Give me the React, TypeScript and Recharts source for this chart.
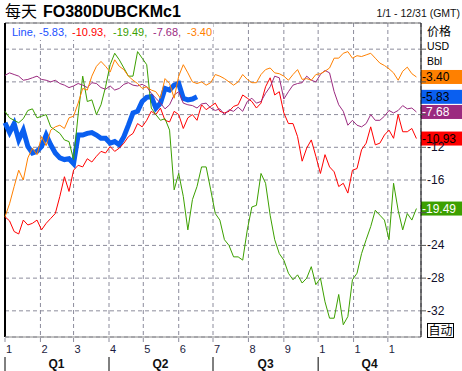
import { LineChart, Line, XAxis, YAxis, CartesianGrid, ReferenceLine } from 'recharts';

// one sample every 4 days, day 0 = 1 Jan
const STEP_DAYS = 4;

const monthStarts = [0, 31, 60, 91, 121, 152, 182, 213, 244, 274, 305, 335];
const monthLabels = ['1', '2', '3', '4', '5', '6', '7', '8', '9', '1', '1', '1'];
const quarterStarts = [0, 91, 182, 274];
const quarterMids = [45, 136, 228, 319];
const quarterLabels = ['Q1', 'Q2', 'Q3', 'Q4'];
const yTicks = [-32, -28, -24, -20, -16, -12, -8, -4, 0];
// tick labels hidden behind the price tags in the original
const yHidden = [-20, -8, -4, 0];

const lineValues = [
  -9.0, -10.2, -9.1, -11.1, -9.9, -11.9, -12.7, -12.5, -11.9, -10.5,
  -11.7, -12.7, -13.3, -13.5, -13.4, -14.0, -10.5, -10.5, -10.3, -10.2,
  -10.5, -10.9, -10.9, -11.5, -11.3, -11.7, -10.7, -9.3, -7.8, -7.6,
  -6.4, -5.9, -5.8, -7.2, -6.6, -4.8, -5.0, -4.4, -4.2, -6.0,
  -6.2, -6.1, -5.83,
];
const redValues = [
  -20.5, -21.0, -22.3, -22.6, -20.9, -21.5, -21.3, -20.9, -22.1, -21.3,
  -20.7, -20.1, -18.0, -15.6, -17.4, -14.8, -14.2, -14.4, -13.4, -13.8,
  -13.1, -12.5, -12.7, -11.9, -12.5, -12.1, -11.5, -10.7, -10.3, -9.1,
  -9.5, -8.7, -7.6, -8.0, -7.2, -8.7, -8.9, -7.6, -8.0, -9.7,
  -8.4, -8.0, -8.7, -6.8, -7.4, -7.0, -6.6, -7.6, -7.8, -7.6,
  -7.0, -6.8, -5.6, -6.0, -6.4, -7.2, -6.6, -4.6, -3.5, -5.6,
  -5.2, -7.8, -9.1, -9.1, -10.7, -13.7, -12.1, -11.1, -13.1, -15.2,
  -12.9, -14.4, -15.0, -16.8, -16.4, -17.6, -14.8, -14.6, -12.3, -11.5,
  -9.5, -11.7, -11.5, -10.5, -9.9, -10.9, -8.0, -10.1, -10.1, -9.7, -10.93,
];
const greenValues = [
  -7.6, -8.4, -8.7, -9.0, -8.5, -7.5, -7.3, -8.4, -8.2, -8.0,
  -9.5, -9.9, -10.3, -11.1, -11.3, -13.5, -8.0, -3.3, -6.4, -6.2,
  -8.0, -6.8, -4.6, -1.9, -0.5, -1.3, -2.3, -3.3, -3.3, -0.3,
  -1.1, -1.9, -7.2, -8.0, -8.7, -8.5, -9.9, -17.2, -15.2, -18.0,
  -22.1, -18.4, -16.8, -14.4, -14.4, -17.2, -20.1, -20.9, -23.3, -24.0,
  -25.4, -25.4, -25.8, -22.1, -19.3, -19.1, -15.2, -16.4, -20.3, -23.3,
  -25.0, -25.8, -27.4, -28.2, -27.6, -28.6, -28.0, -26.6, -28.8, -28.0,
  -30.9, -32.9, -32.9, -30.0, -33.7, -32.7, -28.2, -27.4, -25.0, -23.3,
  -21.7, -19.7, -20.3, -20.9, -23.3, -16.4, -19.7, -22.1, -20.1, -20.9, -19.49,
];
const purpleValues = [
  -3.2, -2.9, -3.1, -3.3, -3.8, -3.7, -3.5, -3.3, -3.7, -3.8,
  -4.0, -3.8, -4.2, -4.4, -4.7, -4.5, -4.2, -4.4, -4.7, -4.1,
  -4.2, -4.7, -4.9, -4.5, -5.0, -4.8, -4.3, -4.1, -4.4, -4.5,
  -4.3, -4.6, -5.4, -6.0, -6.6, -7.3, -6.8, -5.6, -5.2, -6.6,
  -6.8, -6.9, -7.2, -6.7, -6.6, -7.2, -7.5, -7.3, -8.0, -7.4,
  -7.6, -7.1, -7.6, -6.4, -6.0, -6.6, -6.4, -5.4, -4.6, -3.3,
  -3.5, -6.1, -5.2, -4.4, -4.2, -4.1, -3.3, -3.8, -4.0, -3.1,
  -2.6, -2.9, -5.2, -6.8, -7.6, -9.3, -8.7, -9.3, -9.5, -9.1,
  -8.0, -8.7, -8.7, -8.2, -7.5, -7.8, -7.5, -6.9, -7.3, -7.2, -7.68,
];
const orangeValues = [
  -20.5, -18.9, -16.8, -14.8, -16.0, -13.3, -12.1, -12.9, -10.7, -11.8,
  -9.9, -9.5, -9.3, -9.7, -8.4, -8.2, -6.6, -4.8, -5.0, -3.3,
  -2.1, -1.5, -2.1, -2.8, -1.3, -2.1, -2.5, -3.3, -3.8, -4.2,
  -4.8, -4.6, -5.0, -5.2, -6.0, -3.6, -4.2, -6.0, -3.3, -1.9,
  -2.9, -4.0, -4.2, -4.0, -4.4, -4.1, -3.1, -3.3, -3.6, -4.0,
  -4.4, -4.0, -3.1, -3.7, -4.1, -4.1, -3.1, -2.5, -2.3, -2.9,
  -3.0, -3.3, -3.8, -3.1, -2.5, -3.7, -3.6, -3.8, -3.1, -3.0,
  -2.7, -2.3, -1.1, -1.1, -0.5, -0.3, -1.1, -0.8, -0.9, -0.7,
  -0.5, -1.1, -1.7, -2.0, -2.4, -2.9, -3.8, -2.7, -2.2, -3.0, -3.4,
];

const series = [
  { key: 'line', values: lineValues, color: '#0a5ff0', width: 5, tagText: '#000' },
  { key: 'red', values: redValues, color: '#ff0000', width: 1, tagText: '#000' },
  { key: 'green', values: greenValues, color: '#3ca000', width: 1, tagText: '#fff' },
  { key: 'purple', values: purpleValues, color: '#9b2a7f', width: 1, tagText: '#fff' },
  { key: 'orange', values: orangeValues, color: '#ff8000', width: 1, tagText: '#000' },
];

const data = redValues.map((_, i) => {
  const row: Record<string, number | null> = { day: i * STEP_DAYS };
  series.forEach((s) => {
    row[s.key] = i < s.values.length ? s.values[i] : null;
  });
  return row;
});

const FONT = 'Arial, "Liberation Sans", sans-serif';
const CJK = '"Noto Sans CJK SC", sans-serif';
const GRID = '#8c8c9c';

const MonthTick = (p: any) => {
  const i = monthStarts.indexOf(p.payload.value);
  return (
    <g>
      <line x1={p.x} x2={p.x} y1={p.y - 3} y2={p.y + 1} stroke={GRID} />
      <text x={p.x + 1} y={p.y + 12} fontSize={11} fill="#1c1c40" fontFamily={FONT}>
        {monthLabels[i]}
      </text>
    </g>
  );
};

const QuarterTick = (p: any) => {
  const qs = quarterStarts.indexOf(p.payload.value);
  if (qs >= 0) {
    return <line x1={p.x} x2={p.x} y1={p.y} y2={p.y + 14} stroke="#000" />;
  }
  const qm = quarterMids.indexOf(p.payload.value);
  return (
    <text x={p.x} y={p.y + 11} fontSize={12} fontWeight="bold" textAnchor="middle" fill="#111" fontFamily={FONT}>
      {quarterLabels[qm]}
    </text>
  );
};

const PriceTick = (p: any) => {
  if (yHidden.includes(p.payload.value)) return <g />;
  return (
    <text x={p.x} y={p.y + 4} fontSize={12} fill="#10102a" fontFamily={FONT}>
      {p.payload.value}
    </text>
  );
};

const tagLabel = (s: (typeof series)[number]) => (props: any) => {
  const vb = props.viewBox;
  const last = s.values[s.values.length - 1];
  const x = vb.x + vb.width;
  return (
    <g>
      <rect x={x} y={vb.y - 7} width={42} height={14} fill={s.color} />
      <text x={x + 1} y={vb.y + 4.5} fontSize={12} fill={s.tagText} fontFamily={FONT}>
        {last.toFixed(2)}
      </text>
    </g>
  );
};

const legendParts = [
  { text: 'Line,', x: 12, color: '#2050ff' },
  { text: '-5.83,', x: 39, color: '#2050ff' },
  { text: '-10.93,', x: 72, color: '#ff0000' },
  { text: '-19.49,', x: 113, color: '#3ca000' },
  { text: '-7.68,', x: 153, color: '#9b2a7f' },
  { text: '-3.40', x: 187, color: '#ff8000' },
];

export default function App() {
  return (
    <div style={{ position: 'absolute', left: 0, top: 0, width: 462, height: 371, background: '#fff' }}>
      <LineChart width={462} height={371} data={data} margin={{ top: 23, right: 0, bottom: 0, left: 5 }}>
        <CartesianGrid stroke={GRID} strokeDasharray="4 3" />
        <XAxis
          dataKey="day"
          type="number"
          domain={[0, 364]}
          ticks={monthStarts}
          interval={0}
          height={20}
          tickSize={4}
          tickMargin={0}
          tickLine={false}
          axisLine={{ stroke: '#888' }}
          tick={MonthTick}
        />
        <XAxis
          xAxisId="q"
          dataKey="day"
          type="number"
          domain={[0, 364]}
          ticks={[...quarterStarts, ...quarterMids]}
          interval={0}
          height={14}
          tickSize={0}
          tickMargin={0}
          tickLine={false}
          axisLine={false}
          tick={QuarterTick}
        />
        <YAxis
          orientation="right"
          width={41}
          type="number"
          domain={[-35.2, 3.2]}
          ticks={yTicks}
          interval={0}
          allowDataOverflow
          tickSize={5}
          tickMargin={1}
          axisLine={{ stroke: '#000' }}
          tickLine={{ stroke: '#555' }}
          tick={PriceTick}
        />
        <ReferenceLine y={3.2} stroke="#777" />
        <ReferenceLine x={0} stroke="#000" strokeWidth={2} />
        {series.map((s) => (
          <Line
            key={s.key}
            dataKey={s.key}
            stroke={s.color}
            strokeWidth={s.width}
            dot={false}
            type="linear"
            isAnimationActive={false}
          />
        ))}
        {series.map((s) => (
          <ReferenceLine
            key={'tag-' + s.key}
            y={s.values[s.values.length - 1]}
            stroke="none"
            label={tagLabel(s)}
          />
        ))}
      </LineChart>
      <svg
        width={462}
        height={371}
        style={{ position: 'absolute', left: 0, top: 0, pointerEvents: 'none' }}
      >
        <text x={5} y={17} fontSize={16} fill="#000" fontFamily={CJK}>
          每天
        </text>
        <text x={43} y={17} fontSize={16} fontWeight="bold" fill="#000" fontFamily={FONT}>
          FO380DUBCKMc1
        </text>
        <text x={460} y={17} fontSize={10.5} textAnchor="end" fill="#111" fontFamily={FONT}>
          1/1 - 12/31 (GMT)
        </text>
        <rect x={6} y={24} width={207} height={16} fill="#fff" />
        {legendParts.map((p) => (
          <text key={p.x} x={p.x} y={36} fontSize={11} fill={p.color} fontFamily={FONT}>
            {p.text}
          </text>
        ))}
        <text x={427} y={36} fontSize={12} fill="#000" fontFamily={CJK}>
          价格
        </text>
        <text x={427} y={50} fontSize={10.5} fill="#000" fontFamily={FONT}>
          USD
        </text>
        <text x={427} y={65} fontSize={10.5} fill="#000" fontFamily={FONT}>
          Bbl
        </text>
        <rect x={427.5} y={323.5} width={26} height={14} fill="#fff" stroke="#000" />
        <text x={440.5} y={335} fontSize={12} textAnchor="middle" fill="#000" fontFamily={CJK}>
          自动
        </text>
      </svg>
    </div>
  );
}
